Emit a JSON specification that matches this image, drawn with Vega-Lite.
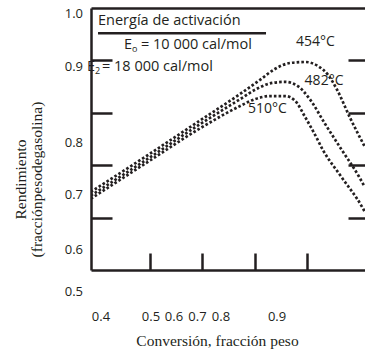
{
  "$schema": "https://vega.github.io/schema/vega-lite/v6.json",
  "width": 274,
  "height": 262,
  "autosize": {"type": "none"},
  "padding": {"left": 91, "top": 8, "right": 0, "bottom": 82},
  "background": "white",
  "config": {"view": {"stroke": null}},
  "datasets": {
    "curves": [
      {"temp": "454", "conv": 0.387, "yield": 0.649},
      {"temp": "454", "conv": 0.5, "yield": 0.722},
      {"temp": "454", "conv": 0.595, "yield": 0.785},
      {"temp": "454", "conv": 0.672, "yield": 0.836},
      {"temp": "454", "conv": 0.71, "yield": 0.863},
      {"temp": "454", "conv": 0.739, "yield": 0.884},
      {"temp": "454", "conv": 0.767, "yield": 0.895},
      {"temp": "454", "conv": 0.796, "yield": 0.897},
      {"temp": "454", "conv": 0.821, "yield": 0.889},
      {"temp": "454", "conv": 0.84, "yield": 0.872},
      {"temp": "454", "conv": 0.857, "yield": 0.844},
      {"temp": "454", "conv": 0.882, "yield": 0.79},
      {"temp": "454", "conv": 0.91, "yield": 0.735},
      {"temp": "482", "conv": 0.387, "yield": 0.642},
      {"temp": "482", "conv": 0.5, "yield": 0.715},
      {"temp": "482", "conv": 0.595, "yield": 0.778},
      {"temp": "482", "conv": 0.672, "yield": 0.826},
      {"temp": "482", "conv": 0.706, "yield": 0.847},
      {"temp": "482", "conv": 0.733, "yield": 0.857},
      {"temp": "482", "conv": 0.758, "yield": 0.859},
      {"temp": "482", "conv": 0.782, "yield": 0.851},
      {"temp": "482", "conv": 0.805, "yield": 0.826},
      {"temp": "482", "conv": 0.834, "yield": 0.779},
      {"temp": "482", "conv": 0.866, "yield": 0.729},
      {"temp": "482", "conv": 0.899, "yield": 0.678},
      {"temp": "482", "conv": 0.91, "yield": 0.658},
      {"temp": "510", "conv": 0.387, "yield": 0.636},
      {"temp": "510", "conv": 0.5, "yield": 0.709},
      {"temp": "510", "conv": 0.595, "yield": 0.77},
      {"temp": "510", "conv": 0.672, "yield": 0.813},
      {"temp": "510", "conv": 0.7, "yield": 0.826},
      {"temp": "510", "conv": 0.729, "yield": 0.832},
      {"temp": "510", "conv": 0.758, "yield": 0.832},
      {"temp": "510", "conv": 0.777, "yield": 0.823},
      {"temp": "510", "conv": 0.796, "yield": 0.792},
      {"temp": "510", "conv": 0.815, "yield": 0.758},
      {"temp": "510", "conv": 0.83, "yield": 0.729},
      {"temp": "510", "conv": 0.865, "yield": 0.678},
      {"temp": "510", "conv": 0.905, "yield": 0.62},
      {"temp": "510", "conv": 0.91, "yield": 0.611}
    ],
    "underline": [{"conv": 0.4008, "conv2": 0.7214, "yield": 0.9517}],
    "curveLabels": [
      {"text": "454°C", "conv": 0.8158, "yield": 0.9351},
      {"text": "482°C", "conv": 0.8321, "yield": 0.8607},
      {"text": "510°C", "conv": 0.7242, "yield": 0.8072}
    ],
    "yLabels": [
      {"text": "1.0", "conv": 0.3721, "yield": 0.9885},
      {"text": "0.9", "conv": 0.3721, "yield": 0.8874},
      {"text": "0.8", "conv": 0.3721, "yield": 0.7424},
      {"text": "0.7", "conv": 0.3721, "yield": 0.6431},
      {"text": "0.6", "conv": 0.3721, "yield": 0.5382},
      {"text": "0.5", "conv": 0.3721, "yield": 0.458}
    ],
    "xLabels": [
      {"text": "0.4", "conv": 0.4065, "yield": 0.4094},
      {"text": "0.5", "conv": 0.5019, "yield": 0.4094},
      {"text": "0.6", "conv": 0.5458, "yield": 0.4094},
      {"text": "0.7", "conv": 0.5906, "yield": 0.4094},
      {"text": "0.8", "conv": 0.6355, "yield": 0.4094},
      {"text": "0.9", "conv": 0.7424, "yield": 0.4094}
    ],
    "legendText": [
      {"text": "Energía de activación", "conv": 0.4008, "yield": 0.9752},
      {"text": "E", "conv": 0.4504, "yield": 0.9294},
      {"text": "= 10 000 cal/mol", "conv": 0.4828, "yield": 0.9294},
      {"text": "E", "conv": 0.3798, "yield": 0.8874},
      {"text": "= 18 000 cal/mol", "conv": 0.4084, "yield": 0.8874}
    ],
    "subscripts": [
      {"text": "o", "conv": 0.4656, "yield": 0.9227},
      {"text": "2", "conv": 0.395, "yield": 0.8807}
    ]
  },
  "layer": [
    {
      "data": {"name": "curves"},
      "mark": {"type": "line", "interpolate": "monotone", "strokeDash": [2.6, 2.1], "strokeWidth": 2.7, "color": "#231f20", "clip": true},
      "encoding": {
        "x": {"field": "conv", "type": "quantitative", "scale": {"domain": [0.3874, 0.9103], "zero": false, "nice": false},
          "axis": {"orient": "bottom", "values": [0.5, 0.6, 0.7, 0.8], "tickSize": -17, "tickWidth": 2.5, "tickColor": "#231f20", "domainColor": "#231f20", "domainWidth": 2.5, "labels": false, "grid": false,
            "title": "Conversión, fracción peso", "titleFont": "Liberation Serif", "titleFontSize": 15.5, "titleFontWeight": "normal", "titleColor": "#231f20", "titleX": 126, "titleY": 70, "titleAlign": "center", "titleBaseline": "middle", "titleAnchor": null}},
        "y": {"field": "yield", "type": "quantitative", "scale": {"domain": [0.5, 1.0], "zero": false, "nice": false},
          "axis": {"orient": "left", "values": [0.6, 0.7, 0.8, 0.9], "tickSize": -21, "tickWidth": 2.5, "tickColor": "#231f20", "domainColor": "#231f20", "domainWidth": 2.5, "labels": false, "grid": false,
            "title": ["Rendimiento", "(fracciónpesodegasolina)"], "titleFont": "Liberation Serif", "titleFontSize": 15.5, "titleFontWeight": "normal", "titleColor": "#231f20", "titleLineHeight": 16, "titleAngle": -90, "titleX": -71, "titleY": 171, "titleAlign": "center", "titleBaseline": "middle", "titleAnchor": null}},
        "detail": {"field": "temp"}
      }
    },
    {
      "data": {"name": "underline"},
      "mark": {"type": "rule", "strokeWidth": 2.5, "color": "#231f20"},
      "encoding": {
        "x": {"field": "conv", "type": "quantitative", "scale": {"domain": [0.3874, 0.9103], "zero": false, "nice": false},
          "axis": {"orient": "top", "ticks": false, "labels": false, "grid": false, "domainColor": "#231f20", "domainWidth": 2.5, "title": null}},
        "x2": {"field": "conv2"},
        "y": {"field": "yield", "type": "quantitative", "scale": {"domain": [0.5, 1.0], "zero": false, "nice": false},
          "axis": {"orient": "right", "domain": false, "values": [0.6, 0.7, 0.8, 0.9], "tickSize": -17, "tickWidth": 2.5, "tickColor": "#231f20", "labels": false, "grid": false, "title": null}}
      }
    },
    {
      "data": {"name": "curveLabels"},
      "mark": {"type": "text", "font": "Open Sans", "fontSize": 14, "align": "center", "baseline": "middle", "color": "#231f20"},
      "encoding": {
        "x": {"field": "conv", "type": "quantitative", "scale": {"domain": [0.3874, 0.9103], "zero": false, "nice": false}, "axis": null},
        "y": {"field": "yield", "type": "quantitative", "scale": {"domain": [0.5, 1.0], "zero": false, "nice": false}, "axis": null},
        "text": {"field": "text"}
      }
    },
    {
      "data": {"name": "yLabels"},
      "mark": {"type": "text", "font": "Open Sans", "fontSize": 13, "align": "right", "baseline": "middle", "color": "#231f20"},
      "encoding": {
        "x": {"field": "conv", "type": "quantitative", "scale": {"domain": [0.3874, 0.9103], "zero": false, "nice": false}, "axis": null},
        "y": {"field": "yield", "type": "quantitative", "scale": {"domain": [0.5, 1.0], "zero": false, "nice": false}, "axis": null},
        "text": {"field": "text"}
      }
    },
    {
      "data": {"name": "xLabels"},
      "mark": {"type": "text", "font": "Open Sans", "fontSize": 13, "align": "center", "baseline": "middle", "color": "#231f20"},
      "encoding": {
        "x": {"field": "conv", "type": "quantitative", "scale": {"domain": [0.3874, 0.9103], "zero": false, "nice": false}, "axis": null},
        "y": {"field": "yield", "type": "quantitative", "scale": {"domain": [0.5, 1.0], "zero": false, "nice": false}, "axis": null},
        "text": {"field": "text"}
      }
    },
    {
      "data": {"name": "legendText"},
      "mark": {"type": "text", "font": "Open Sans", "fontSize": 14.5, "align": "left", "baseline": "middle", "color": "#231f20"},
      "encoding": {
        "x": {"field": "conv", "type": "quantitative", "scale": {"domain": [0.3874, 0.9103], "zero": false, "nice": false}, "axis": null},
        "y": {"field": "yield", "type": "quantitative", "scale": {"domain": [0.5, 1.0], "zero": false, "nice": false}, "axis": null},
        "text": {"field": "text"}
      }
    },
    {
      "data": {"name": "subscripts"},
      "mark": {"type": "text", "font": "Open Sans", "fontSize": 9, "align": "left", "baseline": "middle", "color": "#231f20"},
      "encoding": {
        "x": {"field": "conv", "type": "quantitative", "scale": {"domain": [0.3874, 0.9103], "zero": false, "nice": false}, "axis": null},
        "y": {"field": "yield", "type": "quantitative", "scale": {"domain": [0.5, 1.0], "zero": false, "nice": false}, "axis": null},
        "text": {"field": "text"}
      }
    }
  ],
  "resolve": {"axis": {"x": "independent", "y": "independent"}}
}
